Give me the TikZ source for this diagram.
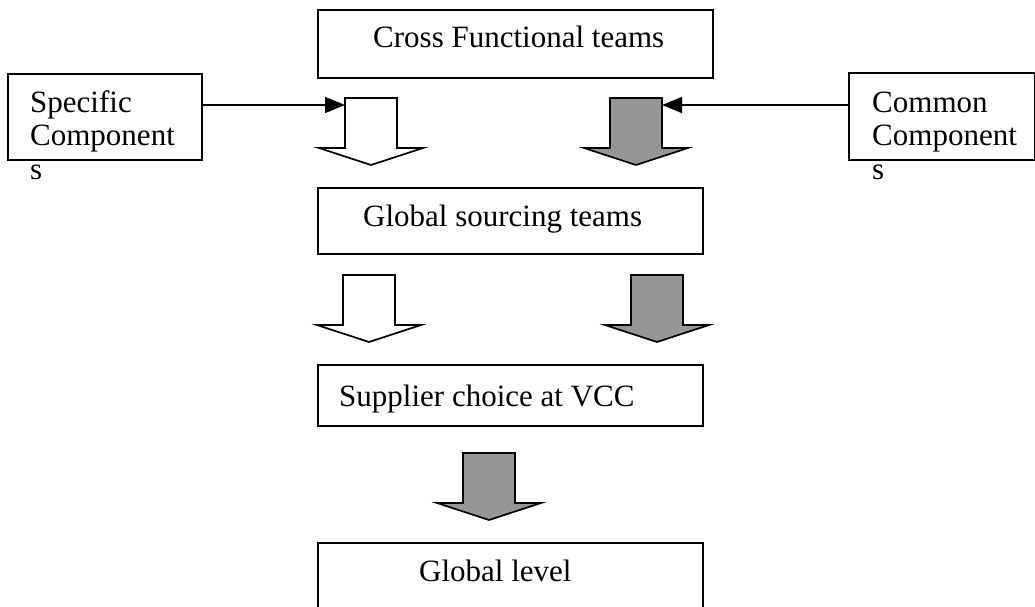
\documentclass[tikz,border=0pt]{standalone}
\usepackage{fontspec}
\setmainfont{Liberation Serif}
\usetikzlibrary{arrows.meta}
\definecolor{arrowgray}{RGB}{150,150,150}
\tikzset{
  box/.style={draw, line width=1.7pt, rectangle, inner sep=0pt, anchor=north west},
  txt/.style={inner sep=0pt, anchor=base west, font=\fontsize{31}{31}\selectfont},
  conn/.style={line width=1.6pt, -{Triangle[length=20pt,width=16pt]}},
  pics/blockarrow/.style={code={
    \path[draw=black, fill=#1, line width=1.7pt, line join=miter]
      (-26,0) -- (26,0) -- (26,50) -- (52,50) -- (0,67) -- (-52,50) -- (-26,50) -- cycle;
    \coordinate (-inw) at (-26,7);
    \coordinate (-ine) at (26,7);
  }}
}
\begin{document}
\begin{tikzpicture}[x=1pt,y=-1pt]
  \useasboundingbox (0,0) rectangle (1035,607);
  \clip (0,0) rectangle (1035,607);

  % boxes of the flow
  \node[box, minimum width=395pt, minimum height=68pt] (cross) at (317,9) {};
  \node[box, minimum width=194pt, minimum height=86pt] (spec) at (7,73) {};
  \node[box, minimum width=186pt, minimum height=87pt] (common) at (848,72) {};
  \node[box, minimum width=385pt, minimum height=66pt] (gs) at (317,187) {};
  \node[box, minimum width=385pt, minimum height=61pt] (sup) at (317,364) {};
  \node[box, minimum width=385pt, minimum height=100pt] (gl) at (317,542) {};

  % box texts
  \node[txt] (crossT) at (373,48) {Cross Functional teams};
  \node[txt] (specA) at (30,113) {Specific};
  \node[txt] (specB) at (30,146) {Component};
  \node[txt] (specC) at (30,179) {s};
  \node[txt] (comA) at (872,113) {Common};
  \node[txt] (comB) at (872,146) {Component};
  \node[txt] (comC) at (872,179) {s};
  \node[txt] (gsT) at (363,226) {Global sourcing teams};
  \node[txt] (supT) at (339,406) {Supplier choice at VCC};
  \node[txt] (glT) at (419,581) {Global level};

  % block arrows
  \pic (wa1) at (371,98) {blockarrow=white};
  \pic (ga1) at (636,98) {blockarrow=arrowgray};
  \pic (wa2) at (369,275) {blockarrow=white};
  \pic (ga2) at (657,275) {blockarrow=arrowgray};
  \pic (ga3) at (489,453) {blockarrow=arrowgray};

  % feeders into the first arrows
  \draw[conn] (spec.east |- wa1-inw) -- (wa1-inw);
  \draw[conn] (common.west |- ga1-ine) -- (ga1-ine);
\end{tikzpicture}
\end{document}
